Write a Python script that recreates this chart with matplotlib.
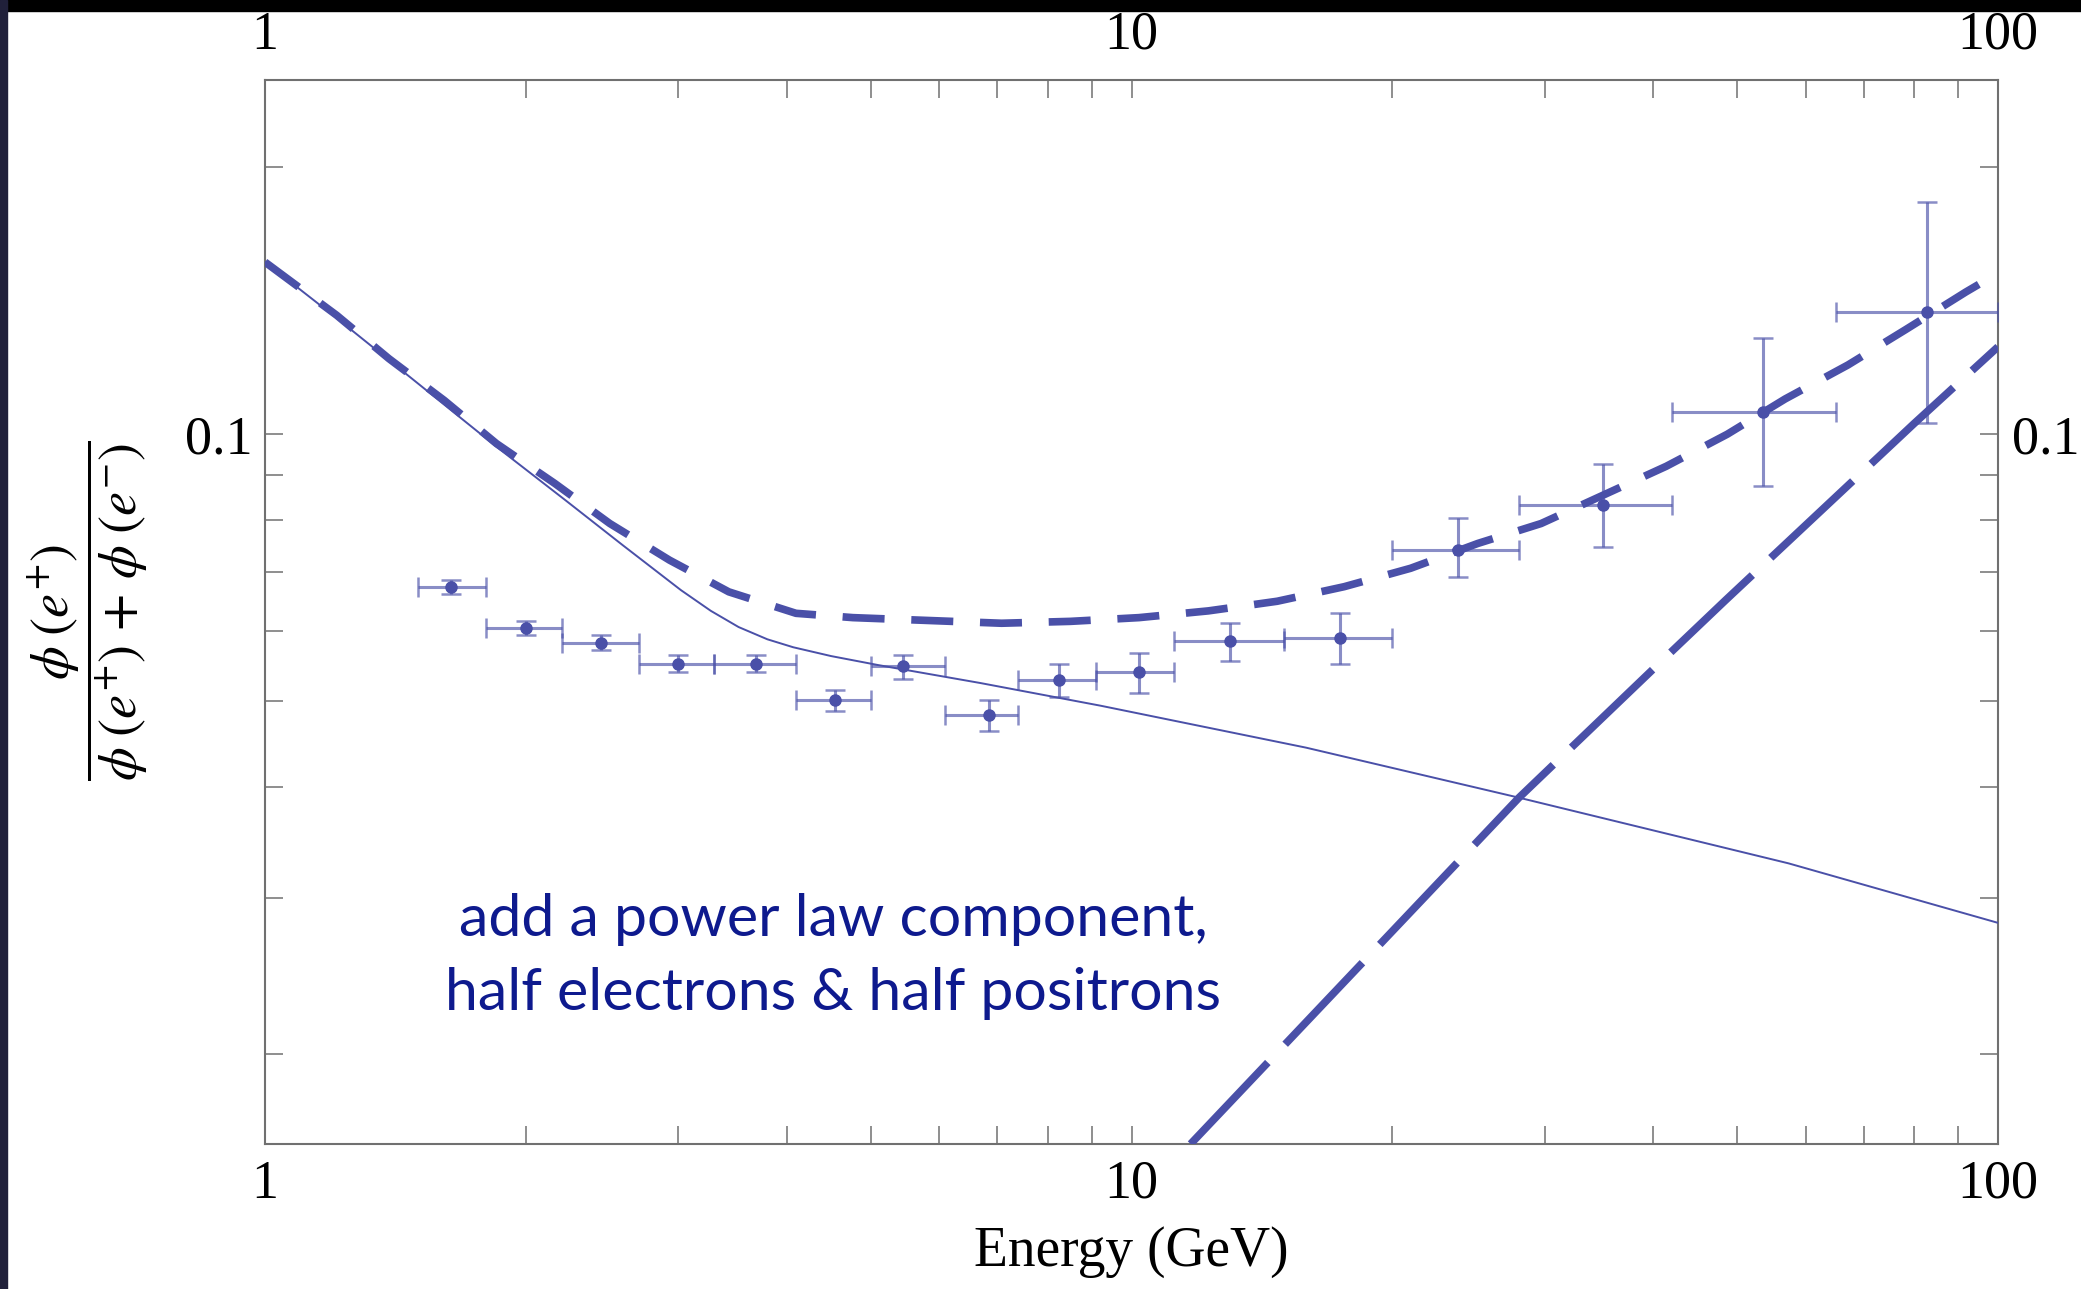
import numpy as np
import matplotlib
matplotlib.use("Agg")
import matplotlib.pyplot as plt
from matplotlib.ticker import FixedLocator, FixedFormatter, NullFormatter
from matplotlib.patches import Rectangle

# ── data ─────────────────────────────────────────────────────────────────────
# measured positron fraction (bins in GeV)
E_data   = [1.64, 2.0, 2.44, 3.0, 3.69, 4.55, 5.45, 6.84, 8.25, 10.2, 13.0, 17.4, 23.8, 35.0, 53.6, 82.8]
E_lo     = [1.5, 1.8, 2.2, 2.7, 3.3, 4.1, 5.0, 6.1, 7.4, 9.1, 11.2, 15.0, 20.0, 28.0, 42.0, 65.0]
E_hi     = [1.8, 2.2, 2.7, 3.3, 4.1, 5.0, 6.1, 7.4, 9.1, 11.2, 15.0, 20.0, 28.0, 42.0, 65.0, 100.0]
frac     = [0.0672, 0.0605, 0.0582, 0.0551, 0.0551, 0.0501, 0.0547, 0.0482, 0.0528, 0.0539,
            0.0584, 0.0589, 0.0740, 0.0832, 0.1060, 0.1372]
err_up   = [0.0012, 0.0011, 0.0011, 0.0012, 0.0012, 0.0014, 0.0017, 0.0019, 0.0022, 0.0028,
            0.0029, 0.0040, 0.0064, 0.0093, 0.0224, 0.0457]
err_dn   = [0.0012, 0.0011, 0.0011, 0.0012, 0.0012, 0.0014, 0.0017, 0.0019, 0.0023, 0.0028,
            0.0029, 0.0038, 0.0049, 0.0086, 0.0186, 0.0342]

# secondary-only model (thin solid)
E_sec    = [1.0, 1.21, 1.48, 1.85, 2.22, 2.59, 3.02, 3.27, 3.52, 3.8, 4.07, 4.5, 5.10, 6.69,
            9.21, 15.9, 28.0, 57.3, 100.0]
f_sec    = [0.1564, 0.1352, 0.1154, 0.0968, 0.0843, 0.0749, 0.0667, 0.0632, 0.0606, 0.0587,
            0.0575, 0.0562, 0.0549, 0.0524, 0.0494, 0.0443, 0.0389, 0.0328, 0.0281]

# secondary + power law (short dashes)
E_tot    = [1.0, 1.21, 1.39, 1.61, 1.85, 2.16, 2.50, 2.93, 3.43, 4.10, 4.77, 7.08, 8.5, 10.2, 12.27,
            14.73, 17.6, 21.0, 25.1, 29.7, 41.4, 48.7, 56.8, 67.1, 78.3, 91.8, 100.0]
f_tot    = [0.1564, 0.1362, 0.1217, 0.1092, 0.0976, 0.0880, 0.0793, 0.0721, 0.0664, 0.0628, 0.0621,
            0.0612, 0.0615, 0.0621, 0.0632, 0.0648, 0.0673, 0.0706, 0.0753, 0.0793, 0.0920, 0.1000,
            0.1096, 0.1197, 0.1313, 0.1447, 0.1520]

# power law component alone (long dashes)
E_pl     = [11.7, 18.8, 28.0, 41.4, 48.5, 80.0, 100.0]
f_pl     = [0.01582, 0.0258, 0.0389, 0.0561, 0.065, 0.1028, 0.1255]

x_major  = [1, 10, 100]
x_labels = ["1", "10", "100"]
y_major  = [0.1]
y_labels = ["0.1"]

# ── style ────────────────────────────────────────────────────────────────────
plt.rcParams["font.family"] = ["Liberation Serif", "DejaVu Serif"]
plt.rcParams["mathtext.fontset"] = "stix"

C_LINE  = "#4A50A8"
C_FRAME = "#707070"
C_TEXT  = "#0E1A8E"
W, H = 2081, 1289

fig = plt.figure(figsize=(W / 100, H / 100), dpi=100, facecolor="white")
ax = fig.add_axes([265 / W, 1 - 1144 / H, (1998 - 265) / W, (1144 - 80) / H])

ax.plot(E_sec, f_sec, color=C_LINE, lw=1.4, zorder=3)
ax.plot(E_tot, f_tot, color=C_LINE, lw=5.5, ls=(0, (5.5, 3.5)),
        dash_capstyle="butt", zorder=3)
ax.plot(E_pl, f_pl, color=C_LINE, lw=5.5, ls=(0, (14.7, 3.3)),
        dash_capstyle="butt", zorder=3)

E_arr = np.array(E_data)
xerr = [E_arr - np.array(E_lo), np.array(E_hi) - E_arr]
ax.errorbar(E_data, frac, xerr=xerr, yerr=[err_dn, err_up], fmt="none",
            ecolor=C_LINE, elinewidth=2.2, capsize=7, capthick=1.8, alpha=0.65, zorder=4)
ax.plot(E_data, frac, "o", color=C_LINE, ms=8, zorder=5)

ax.set_xscale("log")
ax.set_yscale("log")
ax.set_xlim(1, 100)
ax.set_ylim(0.01582, 0.251)

ax.xaxis.set_major_locator(FixedLocator(x_major))
ax.xaxis.set_major_formatter(FixedFormatter(x_labels))
ax.xaxis.set_minor_locator(FixedLocator([m * d for d in (1, 10) for m in range(2, 10)]))
ax.xaxis.set_minor_formatter(NullFormatter())
ax.yaxis.set_major_locator(FixedLocator(y_major))
ax.yaxis.set_major_formatter(FixedFormatter(y_labels))
ax.yaxis.set_minor_locator(FixedLocator([0.02, 0.03, 0.04, 0.05, 0.06, 0.07, 0.08, 0.09, 0.2]))
ax.yaxis.set_minor_formatter(NullFormatter())

ax.tick_params(which="both", direction="in", length=13, width=1.1, color=C_FRAME,
               top=True, right=True, labelsize=39)
ax.tick_params(axis="x", pad=11)
ax.tick_params(axis="y", pad=9)
for sp in ax.spines.values():
    sp.set_color(C_FRAME)
    sp.set_linewidth(1.5)

# labels on the top and right edges
top = ax.secondary_xaxis("top")
top.xaxis.set_major_locator(FixedLocator(x_major))
top.xaxis.set_major_formatter(FixedFormatter(x_labels))
top.xaxis.set_minor_locator(FixedLocator([]))
top.tick_params(length=0, labelsize=39, pad=14)
top.spines["top"].set_visible(False)

right = ax.secondary_yaxis("right")
right.yaxis.set_major_locator(FixedLocator(y_major))
right.yaxis.set_major_formatter(FixedFormatter(y_labels))
right.yaxis.set_minor_locator(FixedLocator([]))
right.tick_params(length=0, labelsize=39, pad=10)
right.spines["right"].set_visible(False)

ax.set_xlabel("Energy (GeV)", fontsize=40, labelpad=12)
fig.text(88 / W, 1 - 611 / H,
         r"$\dfrac{\phi\;(e^{+})}{\phi\;(e^{+})\,+\,\phi\;(e^{-})}$",
         rotation=90, ha="center", va="center", fontsize=39)

ax.text(0.328, 0.176, "add a power law component,\nhalf electrons & half positrons",
        transform=ax.transAxes, ha="center", va="center", fontsize=42.5,
        family="Lato", color=C_TEXT, linespacing=1.5)

# slide background edges
fig.patches.append(Rectangle((0, 1 - 11 / H), 1, 11 / H, transform=fig.transFigure,
                             color="black", zorder=10))
fig.patches.append(Rectangle((0, 0), 7 / W, 1, transform=fig.transFigure,
                             color="#20203a", zorder=10))

fig.savefig("out.png", dpi=100, facecolor="white")
